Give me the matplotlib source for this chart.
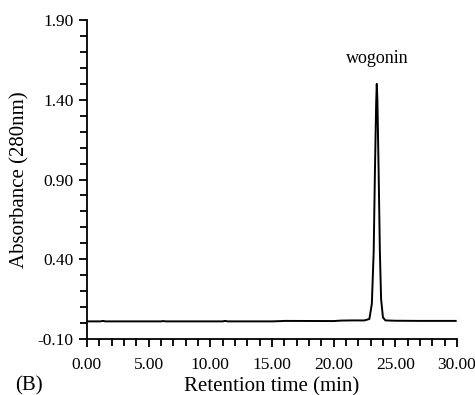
import matplotlib
matplotlib.use('Agg')
import matplotlib.pyplot as plt
from matplotlib.ticker import MultipleLocator

# retention time (min) and absorbance
time = [0.0, 1.1, 1.3, 1.5, 5.0, 6.0, 6.2, 6.4, 10.0, 11.0, 11.2, 11.4, 15.0, 15.8, 16.0,
        20.0, 20.6, 21.5, 22.5, 22.9, 23.1, 23.25, 23.35, 23.45, 23.5, 23.55, 23.65,
        23.75, 23.85, 24.0, 24.2, 25.0, 27.0, 29.9]
absorbance = [0.010, 0.010, 0.013, 0.010, 0.010, 0.010, 0.012, 0.010, 0.010, 0.010, 0.013,
              0.010, 0.010, 0.012, 0.013, 0.012, 0.015, 0.016, 0.016, 0.025, 0.12, 0.45,
              0.95, 1.38, 1.50, 1.40, 0.95, 0.45, 0.15, 0.035, 0.016, 0.014, 0.013, 0.013]

peak_name = 'wogonin'
peak_time = 23.55
peak_label_y = 1.66

plt.rcParams['font.family'] = ['Liberation Serif', 'DejaVu Serif']

fig = plt.figure(figsize=(4.75, 3.95), dpi=100)
ax = fig.add_axes([0.183, 0.142, 0.779, 0.807])

ax.plot(time, absorbance, color='black', lw=1.4)
ax.text(peak_time, peak_label_y, peak_name, ha='center', va='center', fontsize=13)

ax.set_xlim(0, 30)
ax.set_ylim(-0.10, 1.90)
ax.xaxis.set_major_locator(MultipleLocator(5))
ax.xaxis.set_minor_locator(MultipleLocator(1))
ax.set_yticks([-0.10, 0.40, 0.90, 1.40, 1.90])
ax.yaxis.set_minor_locator(MultipleLocator(0.1))
ax.xaxis.set_major_formatter(lambda v, p: '%.2f' % v)
ax.yaxis.set_major_formatter(lambda v, p: '%.2f' % v)

for s in ['top', 'right']:
    ax.spines[s].set_visible(False)
for s in ['left', 'bottom']:
    ax.spines[s].set_linewidth(1.3)

ax.tick_params(which='major', length=6, width=1.3, labelsize=12.5, direction='out')
ax.tick_params(axis='x', which='major', pad=7)
ax.tick_params(which='minor', length=5, width=1.3, direction='out')

ax.set_xlabel('Retention time (min)', fontsize=15, labelpad=3)
ax.set_ylabel('Absorbance (280nm)', fontsize=15, labelpad=6)
fig.text(0.06, 0.0, '(B)', fontsize=15, ha='center', va='bottom')

fig.savefig('out.png', dpi=100)
